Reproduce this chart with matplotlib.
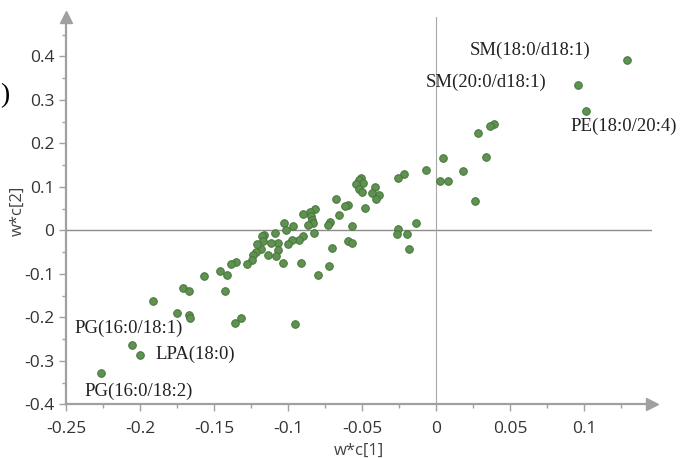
import numpy as np
import matplotlib.pyplot as plt
from matplotlib.ticker import FixedLocator

plt.rcParams['axes.unicode_minus'] = False

# loadings w*c[1], w*c[2]
wc1 = [0.1294, 0.0962, 0.1015, 0.0391, 0.0362, 0.0285, 0.0338, 0.0047, 0.0182, -0.0068,
       0.0026, 0.0082, 0.0265, -0.0215, -0.0253, -0.0132, -0.0253, -0.0262, -0.0194, -0.0185,
       -0.0412, -0.0432, -0.0388, -0.0403, -0.0506, -0.0518, -0.0494, -0.0538, -0.0518, -0.0497,
       -0.0479, -0.0565, -0.0594, -0.0612, -0.0591, -0.0568, -0.0674, -0.0653, -0.0718, -0.0732,
       -0.0703, -0.0724, -0.0794, -0.0818, -0.0850, -0.0844, -0.0835, -0.0829, -0.0862, -0.0824,
       -0.0900, -0.0900, -0.0926, -0.0915, -0.0950, -0.0965, -0.0974, -0.0997, -0.1024, -0.1012,
       -0.1035, -0.1065, -0.1070, -0.1082, -0.1088, -0.1112, -0.1132, -0.1159, -0.1176, -0.1171,
       -0.1182, -0.1209, -0.1215, -0.1238, -0.1244, -0.1274, -0.1353, -0.1385, -0.1415, -0.1424,
       -0.1459, -0.1565, -0.1318, -0.1356, -0.1706, -0.1668, -0.1909, -0.1750, -0.1671, -0.1662,
       -0.2053, -0.2000, -0.2262]
wc2 = [0.391, 0.334, 0.275, 0.245, 0.240, 0.225, 0.169, 0.166, 0.136, 0.139,
       0.114, 0.113, 0.068, 0.130, 0.121, 0.0175, 0.004, -0.008, -0.008, -0.043,
       0.1006, 0.0853, 0.0815, 0.073, 0.120, 0.115, 0.110, 0.106, 0.095, 0.0876,
       0.052, 0.009, 0.058, 0.0556, -0.025, -0.028, 0.072, 0.035, 0.020, 0.012,
       -0.041, -0.0815, -0.102, 0.050, 0.0427, 0.0335, 0.025, 0.016, 0.0114, -0.006,
       0.038, -0.0137, -0.023, -0.074, -0.2156, 0.009, -0.021, -0.031, 0.0175, 0.0015,
       -0.074, -0.028, -0.044, -0.059, -0.006, -0.028, -0.056, -0.0107, -0.0137, -0.024,
       -0.042, -0.031, -0.050, -0.057, -0.069, -0.077, -0.0716, -0.077, -0.102, -0.140,
       -0.0945, -0.104, -0.201, -0.213, -0.132, -0.140, -0.163, -0.190, -0.1935, -0.201,
       -0.264, -0.2865, -0.327]

labels = ['SM(18:0/d18:1)', 'SM(20:0/d18:1)', 'PE(18:0/20:4)',
          'PG(16:0/18:1)', 'LPA(18:0)', 'PG(16:0/18:2)']
label_x = [0.0638, 0.0338, 0.127, -0.2074, -0.1624, -0.2006]
label_y = [0.414, 0.341, 0.2385, -0.226, -0.2857, -0.3695]

xticks = [-0.25, -0.2, -0.15, -0.1, -0.05, 0, 0.05, 0.1]
xticklabels = ['-0.25', '-0.2', '-0.15', '-0.1', '-0.05', '0', '0.05', '0.1']
yticks = [-0.4, -0.3, -0.2, -0.1, 0, 0.1, 0.2, 0.3, 0.4]
yticklabels = ['-0.4', '-0.3', '-0.2', '-0.1', '0', '0.1', '0.2', '0.3', '0.4']

axcol = '#a0a0a0'
fig = plt.figure(figsize=(6.83, 4.58), dpi=100)
ax = fig.add_axes([0.0966, 0.1172, 0.858, 0.845])

ax.set_xlim(-0.25, 0.146)
ax.set_ylim(-0.4, 0.49)

ax.axhline(0, color='#8c8c8c', lw=1.0, zorder=1)
ax.axvline(0, color='#a8a8a8', lw=0.8, zorder=1)

ax.scatter(wc1, wc2, s=30, c='#5f9150', edgecolors='#45753a', linewidths=0.7, zorder=3)

for t, x, y in zip(labels, label_x, label_y):
    ax.text(x, y, t, ha='center', va='center', fontsize=13.5,
            family='Liberation Serif', color='#222222')

for s in ['top', 'right']:
    ax.spines[s].set_visible(False)
for s in ['left', 'bottom']:
    ax.spines[s].set_color(axcol)
    ax.spines[s].set_linewidth(1.6)

# arrow heads
ax.plot(1, 0, '>', color=axcol, ms=9, transform=ax.transAxes, clip_on=False)
ax.plot(0, 1, '^', color=axcol, ms=9, transform=ax.transAxes, clip_on=False)

ax.xaxis.set_major_locator(FixedLocator(xticks))
ax.set_xticklabels(xticklabels)
ax.xaxis.set_minor_locator(FixedLocator([-0.225, -0.175, -0.125, -0.075, -0.025, 0.025, 0.075, 0.125]))
ax.yaxis.set_major_locator(FixedLocator(yticks))
ax.set_yticklabels(yticklabels)
ax.yaxis.set_minor_locator(FixedLocator([-0.35, -0.25, -0.15, -0.05, 0.05, 0.15, 0.25, 0.35, 0.45]))

ax.tick_params(which='major', length=5, width=1, color=axcol, labelsize=12.5, labelcolor='#333333')
ax.tick_params(axis='x', which='major', pad=7)
ax.tick_params(which='minor', length=3, width=1, color=axcol)
for lab in ax.get_xticklabels() + ax.get_yticklabels():
    lab.set_family('Open Sans')

ax.set_xlabel('w*c[1]', fontsize=12, family='Open Sans', color='#444444', labelpad=4)
ax.set_ylabel('w*c[2]', fontsize=12, family='Open Sans', color='#444444', labelpad=-1)

fig.text(0.0, 0.792, ')', ha='left', va='center', fontsize=20, family='Liberation Serif')

fig.savefig('out.png', dpi=100)
